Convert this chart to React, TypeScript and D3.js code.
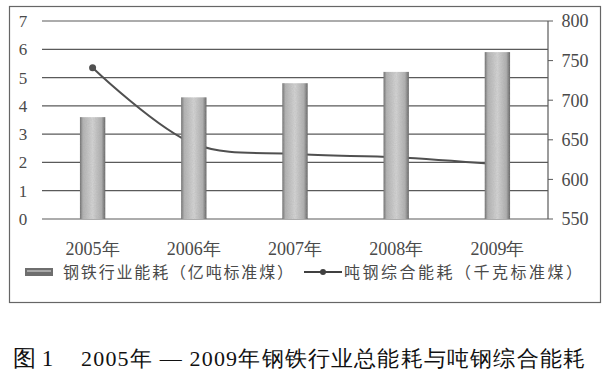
import React from 'react';
import * as d3 from 'd3';

// chart data
const years = ['2005年', '2006年', '2007年', '2008年', '2009年'];
const totalEnergy = [3.6, 4.3, 4.8, 5.2, 5.9]; // 亿吨标准煤
const perTonEnergy = [741, 645, 632, 628, 619]; // 千克标准煤
const leftTicks = [0, 1, 2, 3, 4, 5, 6, 7];
const rightTicks = [550, 600, 650, 700, 750, 800];

const barLegend = '钢铁行业能耗（亿吨标准煤）';
const lineLegend = '吨钢综合能耗（千克标准煤）';
const caption = '2005年 — 2009年钢铁行业总能耗与吨钢综合能耗';

const W = 604;
const H = 387;
const plot = { left: 42, right: 548, top: 21, bottom: 219 };
const SERIF = 'Liberation Serif';
const CJK = 'Noto Sans CJK SC';
const INK = '#4a4a4a';

const App = () => {
  const x = d3
    .scaleBand<string>()
    .domain(years)
    .range([plot.left, plot.right])
    .paddingInner(0.75)
    .paddingOuter(0.375);

  const yLeft = d3.scaleLinear().domain([0, 7]).range([plot.bottom, plot.top]);
  const yRight = d3.scaleLinear().domain([550, 800]).range([plot.bottom, plot.top]);

  const cx = (i: number) => (x(years[i]) as number) + x.bandwidth() / 2;

  const linePath = d3
    .line<number>()
    .x((_, i) => cx(i))
    .y((d) => yRight(d))
    .curve(d3.curveCatmullRom.alpha(0.5))(perTonEnergy);

  return (
    <svg width={W} height={H} style={{ position: 'absolute', left: 0, top: 0, background: '#fff' }}>
      <defs>
        <linearGradient id="barGrad" x1="0" x2="1" y1="0" y2="0">
          <stop offset="0%" stopColor="#6a6a6a" />
          <stop offset="12%" stopColor="#b4b4b4" />
          <stop offset="50%" stopColor="#d6d6d6" />
          <stop offset="85%" stopColor="#b0b0b0" />
          <stop offset="100%" stopColor="#5e5e5e" />
        </linearGradient>
        <filter id="grain" x="0" y="0" width="100%" height="100%">
          <feTurbulence type="fractalNoise" baseFrequency="0.9" numOctaves="2" seed="3" result="noise" />
          <feColorMatrix
            in="noise"
            type="matrix"
            values="0 0 0 0 0.35  0 0 0 0 0.35  0 0 0 0 0.35  0 0 0 0.35 0"
            result="dots"
          />
          <feComposite in="dots" in2="SourceGraphic" operator="in" result="clipped" />
          <feMerge>
            <feMergeNode in="SourceGraphic" />
            <feMergeNode in="clipped" />
          </feMerge>
        </filter>
      </defs>

      {/* outer frame */}
      <rect x={9.5} y={6.5} width={591} height={296} fill="none" stroke="#666" strokeWidth={1.2} />

      {/* horizontal grid */}
      {leftTicks.map((t) => (
        <line
          key={t}
          x1={plot.left}
          x2={plot.right}
          y1={yLeft(t)}
          y2={yLeft(t)}
          stroke="#5a5a5a"
          strokeWidth={1.2}
        />
      ))}

      {/* left tick labels */}
      {leftTicks.map((t) => (
        <text
          key={t}
          x={23}
          y={yLeft(t)}
          dy="0.35em"
          textAnchor="middle"
          fontFamily={SERIF}
          fontSize={17}
          fill={INK}
        >
          {t}
        </text>
      ))}

      {/* right axis */}
      <line x1={plot.right} x2={plot.right} y1={plot.top} y2={plot.bottom} stroke="#5a5a5a" strokeWidth={1.2} />
      {rightTicks.map((t) => (
        <g key={t}>
          <line x1={plot.right} x2={plot.right + 5} y1={yRight(t)} y2={yRight(t)} stroke="#5a5a5a" />
          <text
            x={575}
            y={yRight(t)}
            dy="0.35em"
            textAnchor="middle"
            fontFamily={SERIF}
            fontSize={18}
            fill={INK}
          >
            {t}
          </text>
        </g>
      ))}

      {/* line series drawn behind the bars */}
      <path d={linePath || ''} fill="none" stroke="#505050" strokeWidth={2} />
      {perTonEnergy.map((v, i) => (
        <circle key={i} cx={cx(i)} cy={yRight(v)} r={3.5} fill="#505050" />
      ))}

      {/* bars */}
      {totalEnergy.map((v, i) => (
        <rect
          key={years[i]}
          x={x(years[i])}
          y={yLeft(v)}
          width={x.bandwidth()}
          height={plot.bottom - yLeft(v)}
          fill="url(#barGrad)"
          filter="url(#grain)"
        />
      ))}

      {/* x labels */}
      {years.map((y, i) => (
        <text
          key={y}
          x={cx(i)}
          y={249}
          dy="0.35em"
          textAnchor="middle"
          fontFamily={SERIF}
          fontSize={18}
          fill={INK}
        >
          {y}
        </text>
      ))}

      {/* legend */}
      <rect x={25} y={268} width={28} height={8} fill="#6e6e6e" />
      <rect x={27} y={270} width={24} height={2} fill="#a8a8a8" />
      <text
        x={63}
        y={272}
        dy="0.35em"
        fontFamily={CJK}
        fontSize={16}
        fill={INK}
        textLength={230}
        lengthAdjust="spacing"
      >
        {barLegend}
      </text>
      <line x1={304} x2={342} y1={272} y2={272} stroke="#404040" strokeWidth={2} />
      <circle cx={323} cy={272} r={3} fill="#404040" />
      <text
        x={344}
        y={272}
        dy="0.35em"
        fontFamily={CJK}
        fontSize={16}
        fill={INK}
        textLength={238}
        lengthAdjust="spacing"
      >
        {lineLegend}
      </text>

      {/* caption */}
      <text x={13} y={358} dy="0.35em" fontFamily={SERIF} fontSize={23} fill="#111">
        图 1
      </text>
      <text
        x={81}
        y={358}
        dy="0.35em"
        fontFamily={SERIF}
        fontSize={22}
        fill="#111"
        textLength={504}
        lengthAdjust="spacing"
      >
        {caption}
      </text>
    </svg>
  );
};

export default App;
